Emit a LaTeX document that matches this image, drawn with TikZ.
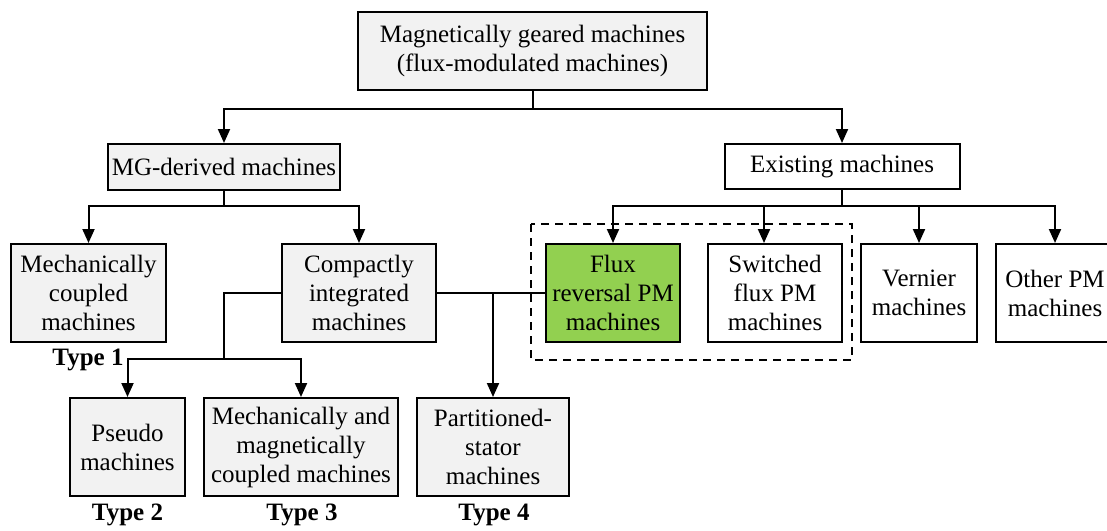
\documentclass[tikz,border=0pt]{standalone}
\usepackage{fontspec}
\setmainfont{Liberation Serif}
\usetikzlibrary{arrows.meta,calc}
\definecolor{boxgray}{HTML}{F2F2F2}
\definecolor{frgreen}{HTML}{92D050}
\begin{document}
\begin{tikzpicture}[x=0.5pt,y=-0.5pt,
  box/.style={draw,line width=1pt,fill=boxgray,align=center,inner sep=0pt,font=\fontsize{12.5}{14.5}\selectfont},
  wh/.style 2 args={minimum width={#1*0.5pt},minimum height={#2*0.5pt}},
  lab/.style={font=\fontsize{12.5}{14.5}\selectfont\bfseries,inner sep=0pt},
  ln/.style={line width=1pt},
  arr/.style={ln,-{Triangle[length=7pt,width=6pt]}}]
\useasboundingbox (0,0) rectangle (1107,530);
% nodes
\node[box,wh={349}{78}] (top) at (532.5,51) {Magnetically geared machines\\(flux-modulated machines)};
\node[box,wh={232}{46}] (mg) at (224,167) {MG-derived machines};
\node[box,fill=white,wh={235}{45}] (ex) at (842,166.5) {Existing machines};
\node[box,wh={155}{98}] (mc) at (88.5,293) {Mechanically\\coupled\\machines};
\node[box,wh={154}{98}] (ci) at (359,293) {Compactly\\integrated\\machines};
\node[box,fill=frgreen,wh={134}{98}] (fr) at (613,293) {Flux\\reversal PM\\machines};
\node[box,fill=white,wh={134}{98}] (sf) at (775,293) {Switched\\flux PM\\machines};
\node[box,fill=white,wh={116}{98}] (vn) at (919,293) {Vernier\\machines};
\node[box,fill=white,wh={118}{98}] (op) at (1055,293) {Other PM\\machines};
\node[box,wh={115}{98}] (ps) at (127.5,447) {Pseudo\\machines};
\node[box,wh={194}{98}] (mm) at (301,447) {Mechanically and\\magnetically\\coupled machines};
\node[box,wh={152}{98}] (pt) at (493,447) {Partitioned-\\stator\\machines};
\node[lab] (t1) at (88,360) {Type 1};
\node[lab] (t2) at (127.5,515) {Type 2};
\node[lab] (t3) at (302,515) {Type 3};
\node[lab] (t4) at (494,515) {Type 4};
% dashed group
\draw[ln,dash pattern=on 4pt off 3pt] (531,224) rectangle (852,360);
% connectors
\draw[ln] (top.south) -- ++(0,18) coordinate (j0);
\draw[arr] (j0) -| (mg.north);
\draw[arr] (j0) -| (ex.north);
\draw[ln] (mg.south) -- ++(0,15) coordinate (j1);
\draw[arr] (j1) -| (mc.north);
\draw[arr] (j1) -| (ci.north);
\draw[ln] (ex.south) -- ++(0,16) coordinate (j2);
\draw[arr] (j2) -| (fr.north);
\draw[arr] (j2) -| ($(sf.north)+(-11,0)$);
\draw[arr] (j2) -| (vn.north);
\draw[arr] (j2) -| (op.north);
\coordinate (j3) at (224,359);
\draw[ln] (ci.west) -| (j3);
\draw[arr] (j3) -| (ps.north);
\draw[arr] (j3) -| (mm.north);
\draw[ln] (ci.east) -- (fr.west);
\coordinate (j4) at (pt.north |- ci.east);
\draw[arr] (j4) -- (pt.north);
\end{tikzpicture}
\end{document}
